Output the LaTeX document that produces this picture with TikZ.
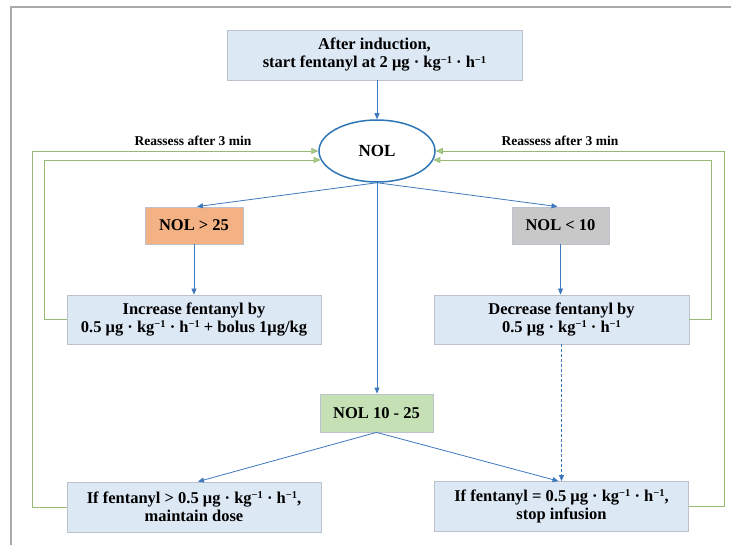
\documentclass[tikz,border=0pt]{standalone}
\usepackage{fontspec}
\setmainfont{Liberation Serif}
\usetikzlibrary{arrows.meta,shapes.geometric}
\definecolor{boxfill}{RGB}{221,232,245}
\definecolor{boxline}{RGB}{188,194,204}
\definecolor{orangefill}{RGB}{244,177,131}
\definecolor{grayfill}{RGB}{200,200,200}
\definecolor{greenfill}{RGB}{197,224,180}
\definecolor{arrowblue}{RGB}{62,120,190}
\definecolor{ellblue}{RGB}{46,117,182}
\definecolor{greenline}{RGB}{150,185,115}
\definecolor{greentip}{RGB}{169,209,142}
\definecolor{framegray}{RGB}{170,170,170}
\newcommand{\inv}{\raisebox{4.8pt}{\fontsize{10.5}{11}\selectfont\char"2212 1}}
\begin{document}
\begin{tikzpicture}[x=1pt,y=-1pt,
  txt/.style={font=\fontsize{16.5}{18}\selectfont\bfseries},
  box/.style={txt, draw=boxline, line width=0.8pt, fill=boxfill, align=center, inner sep=0pt},
  cbox/.style={box, minimum height=37pt},
  flow/.style={draw=arrowblue, line width=0.8pt, -{Triangle[length=6pt,width=5pt]}, arrowblue},
  loop/.style={draw=greenline, line width=0.8pt, -{Triangle[length=7pt,width=6pt,fill=greentip]}},
  frame/.style={draw=framegray, line width=1.2pt}]
\useasboundingbox (0,0) rectangle (731,545);
\draw[frame] (731,7) -- (11,7) -- (11,545);

\node[box, minimum width=295pt, minimum height=50pt] (top) at (374.5,55)
  {After induction,\\start fentanyl at 2 μg · kg\inv{} · h\inv};
\node[ellipse, draw=ellblue, line width=1.5pt, minimum width=116pt, minimum height=62pt, inner sep=0pt, txt, font=\fontsize{17}{18}\selectfont\bfseries] (nol) at (377,151) {NOL};

\node[cbox, fill=orangefill, minimum width=98pt] (gt) at (194,225.5) {NOL > 25};
\node[cbox, fill=grayfill, minimum width=97pt] (lt) at (560.5,225.5) {NOL < 10};

\node[box, minimum width=254pt, minimum height=49pt] (inc) at (194,319.5)
  {Increase fentanyl by\\0.5 μg · kg\inv{} · h\inv{} + bolus 1μg/kg};
\node[box, minimum width=255pt, minimum height=49pt] (dec) at (561.5,319.5)
  {Decrease fentanyl by\\0.5 μg · kg\inv{} · h\inv};

\node[cbox, fill=greenfill, minimum width=113pt, minimum height=38pt] (mid) at (376.5,413) {NOL 10 - 25};

\node[box, minimum width=254pt, minimum height=50pt] (bl) at (194,507)
  {If fentanyl > 0.5 μg · kg\inv{} · h\inv,\\maintain dose};
\node[box, minimum width=254pt, minimum height=50pt] (br) at (561.5,506.5)
  {If fentanyl = 0.5 μg · kg\inv{} · h\inv,\\stop infusion};

\node[txt, font=\fontsize{13.5}{15}\selectfont\bfseries] (lab1) at (193,141) {Reassess after 3 min};
\node[txt, font=\fontsize{13.5}{15}\selectfont\bfseries] (lab2) at (560,141) {Reassess after 3 min};

% blue flow
\draw[flow] (nol.north |- top.south) -- (nol.north);
\draw[flow] (nol.south) -- ([xshift=3pt]gt.north);
\draw[flow] (nol.south) -- ([xshift=-3pt]lt.north);
\draw[flow] (gt.south) -- (gt.south |- inc.north);
\draw[flow] (lt.south) -- (lt.south |- dec.north);
\draw[flow] (nol.south) -- (nol.south |- mid.north);
\draw[flow] (mid.south) -- ([xshift=4pt]bl.north);
\draw[flow] (mid.south) -- ([xshift=-3pt]br.north);
\draw[flow, dash pattern=on 3pt off 2pt] (dec.south) -- (br.north);

% green loops
\draw[loop] (bl.west) -- ++(-34,0) |- (nol.west);
\draw[loop] (inc.west) -- ++(-22,0) |- (nol.189);
\draw[loop] (br.east) -- ++(35,0) |- (nol.east);
\draw[loop] (dec.east) -- ++(22,0) |- (nol.351);
\end{tikzpicture}
\end{document}
